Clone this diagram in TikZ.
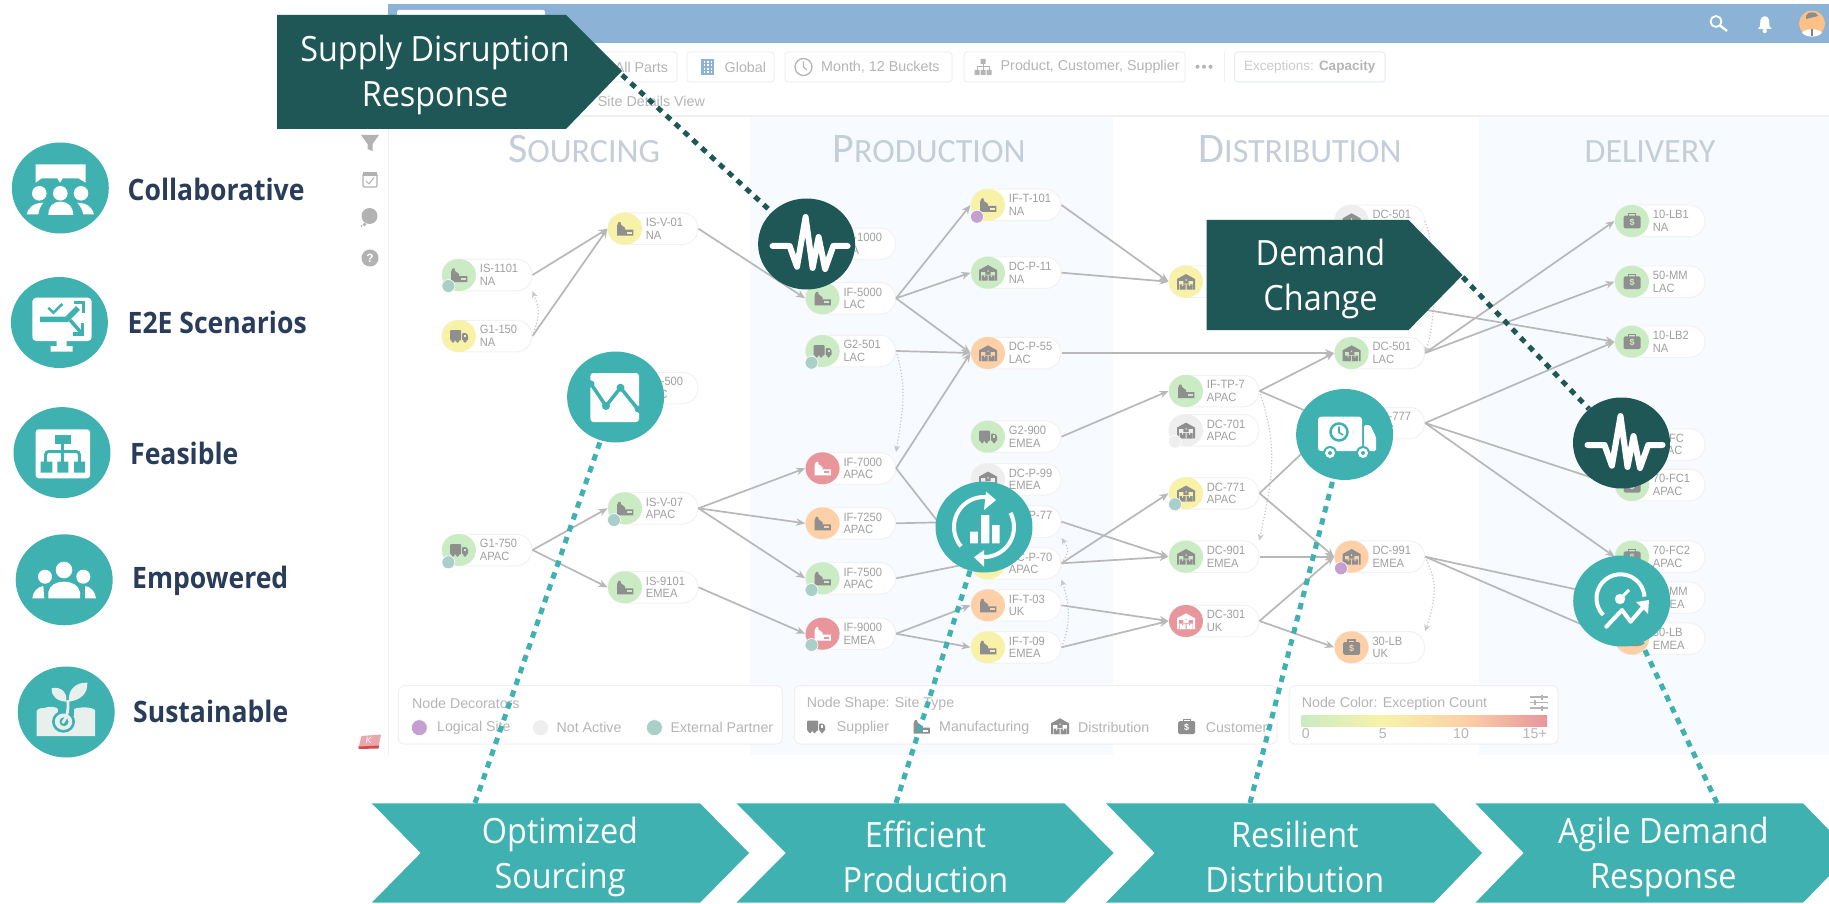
\documentclass[tikz,border=0pt]{standalone}
\usepackage{fontspec}
\setmainfont{Liberation Sans}
\newfontfamily\carl{Carlito}
\newfontfamily\bigf[FakeStretch=0.93]{Open Sans}
\newfontfamily\sidef[FakeStretch=0.9]{Open Sans}
\newfontfamily\sitef[FakeStretch=0.93]{Liberation Sans}
\usetikzlibrary{arrows.meta,shapes.geometric}
\definecolor{darkg}{HTML}{1F5757}
\definecolor{tealg}{HTML}{40B1B1}
\definecolor{navy}{HTML}{293D5A}
\definecolor{barblue}{HTML}{8CB2D5}
\definecolor{colbg}{HTML}{F7FAFE}
\definecolor{uiline}{HTML}{F0F0F0}
\definecolor{pillline}{HTML}{F2F2F2}
\definecolor{hdr}{HTML}{C5CED8}
\definecolor{nodegreen}{HTML}{CBEBC4}
\definecolor{nodeyellow}{HTML}{F8F2A8}
\definecolor{nodeorange}{HTML}{FDD0A8}
\definecolor{nodered}{HTML}{E8969C}
\definecolor{nodegrey}{HTML}{EEEEEE}
\definecolor{icongrey}{HTML}{8F8F8F}
\definecolor{edgegrey}{HTML}{B8B8B8}
\definecolor{sitetxt}{HTML}{A0A0A0}
\definecolor{uitxt}{HTML}{B5B5B5}
\definecolor{decext}{HTML}{A9CFC8}
\definecolor{declog}{HTML}{C4A0D0}
\definecolor{paleground}{HTML}{E8F0EE}
\tikzset{
  pill/.style={draw=pillline,line width=1pt,fill=white,rounded corners=15.5pt,minimum width=90pt,minimum height=31.5pt,inner sep=0pt},
  bub/.style={ellipse,inner sep=0pt,minimum width=34pt,minimum height=32pt},
  deco/.style={circle,inner sep=0pt,minimum size=13pt,draw=white,line width=.6pt},
  sitetext/.style={anchor=west,align=left,inner sep=0pt,text=sitetxt,font=\sitef\fontsize{12}{12.5}\selectfont},
  uitext/.style={anchor=west,inner sep=0pt,text=uitxt,font=\fontsize{14.3}{15}\selectfont},
  legtext/.style={anchor=west,inner sep=0pt,text=uitxt,font=\fontsize{14.2}{15}\selectfont},
  chip/.style={draw=uiline,line width=1pt,fill=white,rounded corners=3pt},
  legbox/.style={draw=uiline,line width=1pt,fill=white,rounded corners=6pt},
  edge/.style={draw=edgegrey,line width=1.7pt,-{Stealth[length=9pt,width=7.5pt]}},
  softedge/.style={draw=black!22,line width=1.2pt,dotted,-{Stealth[length=6.5pt,width=6pt]}},
  hdrtext/.style={anchor=base,inner sep=0pt,text=hdr,font=\carl\fontsize{34}{34}\selectfont},
  bigtext/.style={align=center,inner sep=0pt,text=white,font=\bigf\fontsize{34.8}{45.5}\selectfont},
  sidetext/.style={anchor=west,inner sep=0pt,text=navy,font=\sidef\bfseries\fontsize{29.5}{31}\selectfont},
  bigcirc/.style={ellipse,inner sep=0pt,minimum width=97pt,minimum height=91pt,fill=#1},
  tealdots/.style={draw=tealg,line width=5pt,dash pattern=on 6.5pt off 6pt},
  darkdots/.style={draw=darkg,line width=5pt,dash pattern=on 6pt off 6pt},
  whl/.style={draw=white,line width=4pt,line cap=round,line join=round},
}
% site-type icons: name, x, y
\newcommand{\icfac}[3]{\begin{scope}[shift={(#2,#3)}]
  \fill[icf] (-8,7)--(-8,-3)--(-6.5,-6.5)--(-4.5,-6.5)--(-4,-4)--(0,-1)--(0,1)--(8.3,1)--(8.3,7)--cycle;
  \fill[icb] (1.5,3) rectangle (6.5,5);
\end{scope}}
\newcommand{\ictruck}[3]{\begin{scope}[shift={(#2,#3)}]
  \fill[icf,rounded corners=1pt] (-9,-6) rectangle (2,4.5);
  \fill[icf,rounded corners=1pt] (3,-3)--(7,-3)--(9,-1)--(9,4.5)--(3,4.5)--cycle;
  \fill[icb] (5,-1.5) rectangle (7,1);
  \fill[icf] (-6,5) circle[radius=1.8pt] (-1.5,5) circle[radius=1.8pt] (6,5) circle[radius=1.8pt];
\end{scope}}
\newcommand{\icdist}[3]{\begin{scope}[shift={(#2,#3)}]
  \fill[icf] (-9,-2.7)--(0,-7.7)--(9,-2.7)--(9,8)--(-9,8)--cycle;
  \fill[icb] (-7,-1) rectangle (7,8);
  \fill[icf] (-2.7,-2.5) rectangle (2.7,1.8) (-6.5,2.7) rectangle (-0.5,8) (0.5,2.7) rectangle (6.5,8);
  \fill[icb] (-0.5,-2.5) rectangle (0.5,-0.8) (-4,2.7) rectangle (-3,4.3) (3,2.7) rectangle (4,4.3);
\end{scope}}
\newcommand{\iccust}[3]{\begin{scope}[shift={(#2,#3)}]
  \draw[icf,line width=1.3pt] (-3.5,-5)--(-3.5,-7.3)--(3.5,-7.3)--(3.5,-5);
  \fill[icf,rounded corners=1.5pt] (-8.5,-5.3) rectangle (8.5,7.5);
  \node[inner sep=0pt,text=icb,font=\bfseries\fontsize{9}{9}\selectfont] (#1d) at (0,1.2) {\$};
\end{scope}}
\newcommand{\site}[7]{%
  \def\tmpa{#4}\def\tmpb{nodered}%
  \ifx\tmpa\tmpb\colorlet{icf}{white}\colorlet{icb}{nodered}\else\colorlet{icf}{icongrey}\colorlet{icb}{#4}\fi
  \node[pill] (#1) at ({#2+28},#3) {};
  \node[bub,fill=#4] (#1c) at (#2,#3) {};
  \csname ic#5\endcsname{#1}{#2}{#3}
  \node[sitetext] (#1t) at ({#2+20.7},#3) {#6\\#7};
}
\begin{document}
\begin{tikzpicture}[x=1pt,y=-1pt]
\useasboundingbox[fill=white] (0,0) rectangle (1829,904);
% ---- application background
\fill[colbg] (750,117) rectangle (1113,755);
\fill[colbg] (1479,117) rectangle (1829,755);
\draw[uiline,line width=1pt] (388,43)--(388,755);
\draw[uiline,line width=1.5pt] (388,116)--(1829,116);
\fill[barblue] (388,4) rectangle (1829,43);
\fill[white,rounded corners=2pt] (397,10) rectangle (545,43);
% toolbar
\path[chip] (560,52) rectangle (677,82);
\node[uitext] (tpart) at (614.6,67.3) {All Parts};
\path[chip] (687,52) rectangle (774,82);
\fill[barblue] (701,59) rectangle (714,75);
\foreach \xx in {703.5,707,710.5} \foreach \yy in {61,64.5,68,71.5} \fill[white] (\xx,\yy) rectangle +(1.6,1.6);
\node[uitext] (tglobal) at (724.5,67.3) {Global};
\path[chip] (785,52) rectangle (952,82);
\draw[uitxt,line width=1.3pt] (803.5,67) circle[radius=8.5pt];
\draw[uitxt,line width=1.1pt] (803.5,61.5)--(803.5,67)--(807,70);
\node[uitext] (tmonth) at (821,67.3) {Month, 12 Buckets};
\path[chip] (964,52) rectangle (1185,82);
\fill[uitxt] (980.5,59) rectangle (985.5,64) (974.5,70) rectangle (979.5,75) (980.5,70) rectangle (985.5,75) (986.5,70) rectangle (991.5,75);
\draw[uitxt,line width=1pt] (983,64)--(983,70) (977,70)--(977,67)--(989,67)--(989,70);
\node[uitext] (tprod) at (1000.5,67.3) {Product, Customer, Supplier};
\fill[uitxt] (1197.5,66.7) circle[radius=2pt] (1204,66.7) circle[radius=2pt] (1210.5,66.7) circle[radius=2pt];
\draw[uiline,line width=1pt] (1224.5,51)--(1224.5,82);
\draw[draw=colbg!80!barblue,line width=1pt,fill=white,rounded corners=3pt] (1234.6,52) rectangle (1385,82);
\node[uitext,text=uitxt!70,font=\fontsize{13.5}{14}\selectfont] (texc) at (1244,67.3) {Exceptions: \textcolor{uitxt}{\bfseries Capacity}};
\node[uitext] (tsite) at (597.7,101.7) {Site Details View};
% side bar
\fill[black!30] (361,135)--(379,135)--(372.5,144)--(372.5,151)--(367.5,149)--(367.5,144)--cycle;
\draw[black!30,line width=1.4pt,rounded corners=1pt] (363,174)rectangle(377,187);
\fill[black!30] (363,172) rectangle (377,176);
\draw[black!30,line width=1pt] (366,181)--(369,184)--(374,177.5);
\fill[black!30] (369.5,216) circle[radius=8pt];
\fill[black!30] (364.5,224.5) circle[radius=1.8pt] (361.5,226) circle[radius=1pt];
\fill[black!30] (370,258) circle[radius=8.5pt];
\node[inner sep=0pt,text=white,font=\bfseries\fontsize{12}{12}\selectfont] (thelp) at (370,258) {?};
\fill[nodered!85!white] (361.5,736)--(381,734.5)--(378.5,747)--(358.5,748)--cycle;
\fill[red!75!black!70!white] (358.5,746.5)--(379,745.5)--(378.5,748.5)--(358.5,749)--cycle;
\node[inner sep=0pt,text=white,font=\itshape\fontsize{9}{9}\selectfont] (tk) at (368.5,740.5) {K};
% headers
\node[hdrtext] (hs) at (584,163) {{\fontsize{42}{42}\selectfont S}OURCING};
\node[hdrtext] (hp) at (929,163) {{\fontsize{42}{42}\selectfont P}RODUCTION};
\node[hdrtext] (hd) at (1300,163) {{\fontsize{42}{42}\selectfont D}ISTRIBUTION};
\node[hdrtext] (hv) at (1650,163) {DELIVERY};
% ---- sites
\site{is1101}{459}{275}{nodegreen}{fac}{IS-1101}{NA}
\site{g1150}{459}{336}{nodeyellow}{truck}{G1-150}{NA}
\site{isv01}{625}{228.7}{nodeyellow}{fac}{IS-V-01}{NA}
\site{g1500}{625}{388}{nodegreen}{truck}{G1-500}{LAC}
\site{isv07}{625}{508.3}{nodegreen}{fac}{IS-V-07}{APAC}
\site{g1750}{459}{550}{nodegreen}{truck}{G1-750}{APAC}
\site{is9101}{625}{587.3}{nodegreen}{fac}{IS-9101}{EMEA}
\site{if1000}{822.6}{243.8}{nodegreen}{fac}{IF-1000}{NA}
\site{if5000}{822.6}{298.3}{nodegreen}{fac}{IF-5000}{LAC}
\site{g2501}{822.6}{351}{nodegreen}{truck}{G2-501}{LAC}
\site{if7000}{822.6}{468.3}{nodered}{fac}{IF-7000}{APAC}
\site{if7250}{822.6}{523.3}{nodeorange}{fac}{IF-7250}{APAC}
\site{if7500}{822.6}{578.3}{nodegreen}{fac}{IF-7500}{APAC}
\site{if9000}{822.6}{633.7}{nodered}{fac}{IF-9000}{EMEA}
\site{ift101}{988}{205}{nodeyellow}{fac}{IF-T-101}{NA}
\site{dcp11}{988}{272.7}{nodegreen}{dist}{DC-P-11}{NA}
\site{dcp55}{988}{353}{nodeorange}{dist}{DC-P-55}{LAC}
\site{g2900}{988}{436.7}{nodegreen}{truck}{G2-900}{EMEA}
\site{dcp99}{988}{479.3}{nodegrey}{dist}{DC-P-99}{EMEA}
\site{dcp77}{988}{521.7}{nodegreen}{dist}{DC-P-77}{LAC}
\site{dcp70}{988}{563.3}{nodeyellow}{dist}{DC-P-70}{APAC}
\site{ift03}{988}{605.3}{nodeorange}{fac}{IF-T-03}{UK}
\site{ift09}{988}{647.3}{nodeyellow}{fac}{IF-T-09}{EMEA}
\site{dcy}{1186}{281.7}{nodeyellow}{dist}{}{}
\site{iftp7}{1186}{391}{nodegreen}{fac}{IF-TP-7}{APAC}
\site{dc701}{1186}{430.3}{nodegrey}{dist}{DC-701}{APAC}
\site{dc771}{1186}{493.3}{nodeyellow}{dist}{DC-771}{APAC}
\site{dc901}{1186}{556.7}{nodegreen}{dist}{DC-901}{EMEA}
\site{dc301}{1186}{621}{nodered}{dist}{DC-301}{UK}
\site{dc501n}{1351.6}{221}{nodegrey}{dist}{DC-501}{NA}
\site{dc501}{1351.6}{353}{nodegreen}{dist}{DC-501}{LAC}
\site{dc777}{1351.6}{423}{nodegreen}{dist}{DC-777}{LAC}
\site{dc991}{1351.6}{556.7}{nodeorange}{dist}{DC-991}{EMEA}
\site{lbuk}{1351.6}{647.3}{nodeorange}{cust}{30-LB}{UK}
\site{lb1}{1632}{221}{nodegreen}{cust}{10-LB1}{NA}
\site{mm50}{1632}{281.7}{nodegreen}{cust}{50-MM}{LAC}
\site{lb2}{1632}{341.7}{nodegreen}{cust}{10-LB2}{NA}
\site{fc70}{1632}{444.5}{nodegreen}{cust}{70-FC}{APAC}
\site{fc1}{1632}{485}{nodegreen}{cust}{70-FC1}{APAC}
\site{fc2}{1632}{556.7}{nodegreen}{cust}{70-FC2}{APAC}
\site{mme}{1632}{597.7}{nodegreen}{cust}{50-MM}{EMEA}
\site{lbe}{1632}{638.7}{nodeorange}{cust}{30-LB}{EMEA}
% decorators
\foreach \nm/\xx/\yy/\cc in {d1/448.4/286/decext,d2/614/520/decext,d3/448.4/562.3/decext,d4/811.5/362.7/decext,d5/811.5/590/decext,d6/811.5/645/decext,d7/1175/504.3/decext,d8/977/216.7/declog,d9/1341/568.3/declog,d10/1175/441.7/nodegrey}
  \node[deco,fill=\cc] (\nm) at (\xx,\yy) {};
% ---- connectors
\foreach \a/\b in {is1101/isv01,g1150/isv01,isv01/if5000,if5000/ift101,if5000/dcp11,if5000/dcp55,g2501/dcp55,ift101/dcy,dcp11/dcy,dcp55/dc501,iftp7/dc501,iftp7/dc777,g2900/iftp7,if7000/dcp55,if7000/dcp70,if7250/dcp77,if7500/dcp70,isv07/if7000,isv07/if7250,isv07/if7500,g1750/isv07,g1750/is9101,is9101/if9000,if9000/ift03,if9000/ift09,dcp77/dc901,dcp70/dc901,dcp70/dc771,ift03/dc301,ift09/dc301,dc771/dc991,dc771/dc777,dc901/dc991,dc301/dc991,dc301/lbuk,dc501/lb1,dc501/mm50,dcy/lb2,dc777/lb2,dc777/fc1,dc777/fc2,dc991/mme,dc991/lbe}
  \draw[edge] (\a.east) -- (\b.west);
\draw[softedge] (g1150.east) .. controls +(7,-20) and +(8,20) .. (is1101.south east);
\draw[softedge] (g2501.east) .. controls +(12,40) and +(6,-40) .. (if7000.north east);
\draw[softedge] (dc501n.east) .. controls +(14,40) and +(10,-30) .. (dc501.east);
\draw[softedge] (iftp7.east) .. controls +(20,60) and +(12,-60) .. (dc901.north east);
\draw[softedge] (ift09.east) .. controls +(8,-20) and +(10,30) .. (dcp70.south east);
\draw[softedge] (dcp70.east) .. controls +(8,-12) and +(8,12) .. (dcp77.south east);
\draw[softedge] (dc991.east) .. controls +(12,25) and +(12,-35) .. (lbuk.north east);
% ---- legends
\path[legbox] (398.4,685.7) rectangle (782.4,744);
\node[legtext] (l1a) at (412,703.5) {Node Decorators};
\node[deco,minimum size=16pt,fill=declog] (l1b) at (419.3,727.7) {};
\node[legtext] (l1c) at (437,727.7) {Logical Site};
\node[deco,minimum size=16pt,fill=nodegrey] (l1d) at (540.5,727.7) {};
\node[legtext] (l1e) at (556.5,727.7) {Not Active};
\node[deco,minimum size=16pt,fill=decext] (l1f) at (654.4,727.7) {};
\node[legtext] (l1g) at (670.4,727.7) {External Partner};
\path[legbox] (794.5,685.7) rectangle (1277,744);
\colorlet{icf}{icongrey}\colorlet{icb}{white}
\node[legtext] (l2a) at (806.6,703.5) {Node Shape: Site Type};
\ictruck{l2b}{816}{726.5}
\node[legtext] (l2c) at (836.7,727.7) {Supplier};
\icfac{l2d}{921.5}{726.5}
\node[legtext] (l2e) at (939,727.7) {Manufacturing};
\icdist{l2f}{1060}{726}
\node[legtext] (l2g) at (1078,727.7) {Distribution};
\iccust{l2h}{1186.7}{726.5}
\node[legtext] (l2i) at (1205.6,727.7) {Customer};
\path[legbox] (1289,685.7) rectangle (1558,744);
\node[legtext] (l3a) at (1301.7,703.5) {Node Color: Exception Count};
\draw[uitxt,line width=1.2pt] (1530,697)--(1548,697) (1530,702.5)--(1548,702.5) (1530,708)--(1548,708)
  (1542,694.5)--(1542,699.5) (1535,700)--(1535,705) (1542,705.5)--(1542,710.5);
\shade[left color=nodegreen,right color=nodeyellow] (1301.7,715) rectangle (1383,726.7);
\shade[left color=nodeyellow,right color=nodeorange] (1383,715) rectangle (1464,726.7);
\shade[left color=nodeorange,right color=nodered] (1464,715) rectangle (1547,726.7);
\node[legtext] (l3b) at (1301.7,733.5) {0};
\node[legtext] (l3c) at (1378.7,733.5) {5};
\node[legtext] (l3d) at (1453,733.5) {10};
\node[legtext,anchor=east] (l3e) at (1547,733.5) {15+};
% top bar icons
\draw[white,line width=1.8pt] (1716,21.5) circle[radius=5.5pt];
\draw[white,line width=2.3pt] (1720,25.5)--(1727,31);
\fill[white] (1758,29)--(1760,26)--(1760.5,20) .. controls (1761,15) and (1768.5,15) .. (1769,20) -- (1769.5,26)--(1771.5,29)--cycle;
\fill[white] (1764.7,31) circle[radius=2.2pt];
\fill[nodeorange!80!orange] (1812,23.5) circle[radius=13pt];
\fill[white] (1802,33) .. controls (1804,28) and (1820,28) .. (1822,33) .. controls (1816,38) and (1808,38) .. (1802,33);
\fill[black!45] (1806,16) .. controls (1807,11) and (1817,11) .. (1818,16) -- (1806,19)--cycle;
\fill[black!50] (1811,29) rectangle (1813,36);
% ---- round badges and their dotted leaders
\node[bigcirc=darkg] (pulseA) at (806.6,244) {};
\node[bigcirc=darkg] (pulseB) at (1621.5,443) {};
\node[bigcirc=tealg] (chartC) at (615.6,397) {};
\node[bigcirc=tealg] (cycleC) at (984,527) {};
\node[bigcirc=tealg] (truckC) at (1344.6,434.5) {};
\node[bigcirc=tealg] (gaugeC) at (1621.7,601) {};
\coordinate (supplytip) at (622,75);
\coordinate (demandtip) at (1462.6,277);
\coordinate (ch1top) at (475,803);
\coordinate (ch2top) at (896,803);
\coordinate (ch3top) at (1250,803);
\coordinate (ch4top) at (1717,803);
\draw[darkdots] (supplytip) -- (pulseA);
\draw[darkdots] (demandtip) -- (pulseB);
\draw[tealdots] (ch1top) -- (chartC);
\draw[tealdots] (ch2top) -- (cycleC);
\draw[tealdots] (ch3top) -- (truckC);
\draw[tealdots] (ch4top) -- (gaugeC);
% pulse icons
\foreach \cx/\cy in {806.6/244,1621.5/443}
  \draw[white,line width=6pt,line cap=round,line join=round,shift={(\cx,\cy)}]
   (-34,2)--(-17,2)--(-9.6,22.7)--(-1,-27)--(6,24)--(12,-7)--(18.5,25)--(26.7,2)--(41,2);
% chart icon
\fill[white,rounded corners=3pt] (590.4,373) rectangle (639,422);
\draw[tealg,line width=3.5pt,line join=round] (589,381)--(606,406)--(620.5,387.7)--(641,413);
\fill[tealg] (606,406) circle[radius=4pt] (620.5,387.7) circle[radius=4pt] (591,384) circle[radius=3.5pt] (638,409) circle[radius=3.5pt];
% cycle icon
\fill[white] (970,531.7) rectangle (977.8,543.3) (981,515) rectangle (989.4,543.3) (992,525) rectangle (999.6,543.3);
\draw[white,line width=4pt,domain=140:280,samples=30] plot ({984+30*cos(\x)},{527+30*sin(\x)});
\draw[white,line width=4pt,domain=-28:100,samples=30] plot ({984+30*cos(\x)},{527+30*sin(\x)});
\fill[white] (996,500)--(986,491.5)--(984,510)--cycle;
\fill[white] (974,557.3)--(984,550)--(984,566.7)--cycle;
% truck icon
\fill[white,rounded corners=3pt] (1318,416.7) rectangle (1362,451);
\fill[white,rounded corners=1.5pt] (1364,425)--(1370,425)--(1376,437)--(1376,451)--(1364,451)--cycle;
\draw[tealg,line width=2.5pt] (1339,432) circle[radius=8.5pt];
\draw[tealg,line width=1.6pt] (1339,426.5)--(1339,432.5)--(1343,435);
\foreach \xx in {1330,1363} {\fill[tealg] (\xx,453) circle[radius=7pt]; \fill[white] (\xx,453) circle[radius=5pt]; \fill[tealg] (\xx,453) circle[radius=2pt];}
% gauge icon
\draw[whl,domain=136:356,samples=30,line cap=butt] plot ({1620.5+24*cos(\x)},{598.3+24*sin(\x)});
\fill[white] (1620,599) circle[radius=5.2pt];
\draw[white,line width=3pt] (1620,599)--(1629,590);
\draw[whl] (1606.3,626.7)--(1622,610)--(1630.6,621.7)--(1644,606);
\fill[white] (1649,600)--(1636,602)--(1648,614)--cycle;
% ---- banners
\path[fill=darkg] (277,15)--(566,15)--(622,71)--(566,129)--(277,129)--cycle;
\node[bigtext] (supply) at (435,75) {Supply Disruption\\Response};
\path[fill=darkg] (1206.5,220)--(1408.6,220)--(1462.6,275)--(1408.6,330)--(1206.5,330)--cycle;
\node[bigtext] (demand) at (1320.5,279) {Demand\\Change};
\path[fill=tealg] (371.8,803.3)--(700,803.3)--(749,853)--(700,902.7)--(371.8,902.7)--(420.7,853)--cycle;
\node[bigtext] (c1) at (560,857) {Optimized\\Sourcing};
\path[fill=tealg] (736.4,803.3)--(1064.5,803.3)--(1113.5,853)--(1064.5,902.7)--(736.4,902.7)--(785.8,853)--cycle;
\node[bigtext] (c2) at (925.4,857) {Efficient\\Production};
\path[fill=tealg] (1106,803.3)--(1434,803.3)--(1482,853)--(1434,902.7)--(1106,902.7)--(1154.7,853)--cycle;
\node[bigtext] (c3) at (1294.8,857) {Resilient\\Distribution};
\path[fill=tealg] (1475.4,803.3)--(1803,803.3)--(1829,830)--(1829,876)--(1803,902.7)--(1475.4,902.7)--(1523.7,853)--cycle;
\node[bigtext] (c4) at (1663.4,857) {Agile Demand\\Response};
% ---- left column
\node[bigcirc=tealg] (collab) at (60.3,188) {};
\node[bigcirc=tealg] (e2e) at (59.4,322.5) {};
\node[bigcirc=tealg] (feas) at (62,452.6) {};
\node[bigcirc=tealg] (emp) at (64.2,579.8) {};
\node[bigcirc=tealg] (sust) at (66.2,712) {};
\node[sidetext] (lcollab) at (127.5,189) {Collaborative};
\node[sidetext] (le2e) at (127.5,322.7) {E2E Scenarios};
\node[sidetext] (lfeas) at (130,453.5) {Feasible};
\node[sidetext] (lemp) at (132,581) {Empowered};
\node[sidetext] (lsust) at (133,711.7) {Sustainable};
% collaborative icon
\fill[white] (35.7,164.3)--(85.7,164.3)--(85.7,182.7)--(78.3,178.3)--(62.7,178.3)--(60,182.7)--(57.3,178.3)--(41.7,178.3)--(35.7,182.7)--cycle;
\fill[white] (39.3,193.3) circle[radius=7.3pt] (60.3,193.3) circle[radius=7.3pt] (81,193.3) circle[radius=7.3pt];
\fill[white] (48.3,215) .. controls (48.5,207) and (52,202) .. (60.5,201.7) .. controls (69,202) and (73,207) .. (73.3,215) -- cycle;
\fill[white] (26.7,214.3) .. controls (28,208) and (33,203) .. (43.3,202.7) .. controls (40.5,206) and (39,210) .. (38.3,214.3) -- cycle;
\fill[white] (94,214.3) .. controls (92.7,208) and (87.7,203) .. (77.3,202.7) .. controls (80.2,206) and (82.5,210) .. (83.3,214.3) -- cycle;
% e2e icon
\fill[white,rounded corners=4pt] (32.3,297.7) rectangle (91.7,341);
\fill[white] (56.7,340) rectangle (66.7,347) (50.7,346) rectangle (72.7,351.7);
\draw[tealg,line width=5.5pt] (40,319.3)--(66.7,319.3)--(78,308);
\draw[tealg,line width=3.5pt] (74,302.7)--(83.3,302.7)--(83.3,312.7);
\draw[tealg,line width=3.5pt] (70,320)--(81,332.5);
\draw[tealg,line width=3.5pt] (82.7,323.3)--(82.7,334)--(72.7,334);
\draw[tealg,line width=2.5pt] (48.3,307.7)--(53.3,312.7)--(62.3,304);
% feasible icon
\fill[white,rounded corners=3pt] (35.7,429.3) rectangle (90,478.3);
\fill[tealg] (55,435) rectangle (71,444.3);
\draw[tealg,line width=3pt] (62.7,444)--(62.7,462);
\draw[tealg,line width=3pt,rounded corners=3pt] (45.7,462)--(45.7,451.5)--(79.3,451.5)--(79.3,462);
\fill[tealg] (40.7,461.7) rectangle (52.3,472.7) (57.3,461.7) rectangle (68.3,472.7) (74,461.7) rectangle (85,472.7);
% empowered icon
\fill[white] (64,570) circle[radius=8.3pt];
\fill[white] (45,576.7) circle[radius=7pt];
\fill[white] (83.3,576.7) circle[radius=7pt];
\fill[white] (32.3,598.3) .. controls (33,592) and (37,587) .. (43.3,586) -- (44.3,598.3) -- cycle;
\fill[white] (96,598.3) .. controls (95.3,592) and (91.3,587) .. (85,586) -- (85,598.3) -- cycle;
\fill[white] (48.3,598.3) -- (48.3,592) .. controls (50,585) and (56,581.7) .. (64,581.7) .. controls (72,581.7) and (78.5,585) .. (80,592) -- (80,598.3) -- cycle;
% sustainable icon
\fill[paleground] (36.7,736)--(36.7,711) .. controls (38,708) and (42,708) .. (44,708) .. controls (50,706) and (56,706) .. (59,710) -- (72,710) .. controls (76,707) and (90,706) .. (95,710) -- (95,736)--cycle;
\fill[tealg] (63.5,721.7) ellipse[x radius=11.5pt,y radius=11pt];
\fill[tealg] (58,708) rectangle (74,716);
\fill[paleground] (63.5,721.7) ellipse[x radius=8.7pt,y radius=8.2pt];
\fill[tealg] (64,721.7) ellipse[x radius=4.5pt,y radius=4.5pt];
\fill[paleground] (51.7,688.3) .. controls (60,686) and (68,692) .. (66,701.7) .. controls (58,701) and (51,697) .. (51.7,688.3);
\fill[paleground] (87.3,682.7) .. controls (76,682) and (67,690) .. (69.3,701.7) .. controls (80,700) and (88,694) .. (87.3,682.7);
\draw[paleground,line width=2.8pt] (67.7,700) .. controls (68.5,708) and (68,716) .. (62.5,723);
\end{tikzpicture}
\end{document}
